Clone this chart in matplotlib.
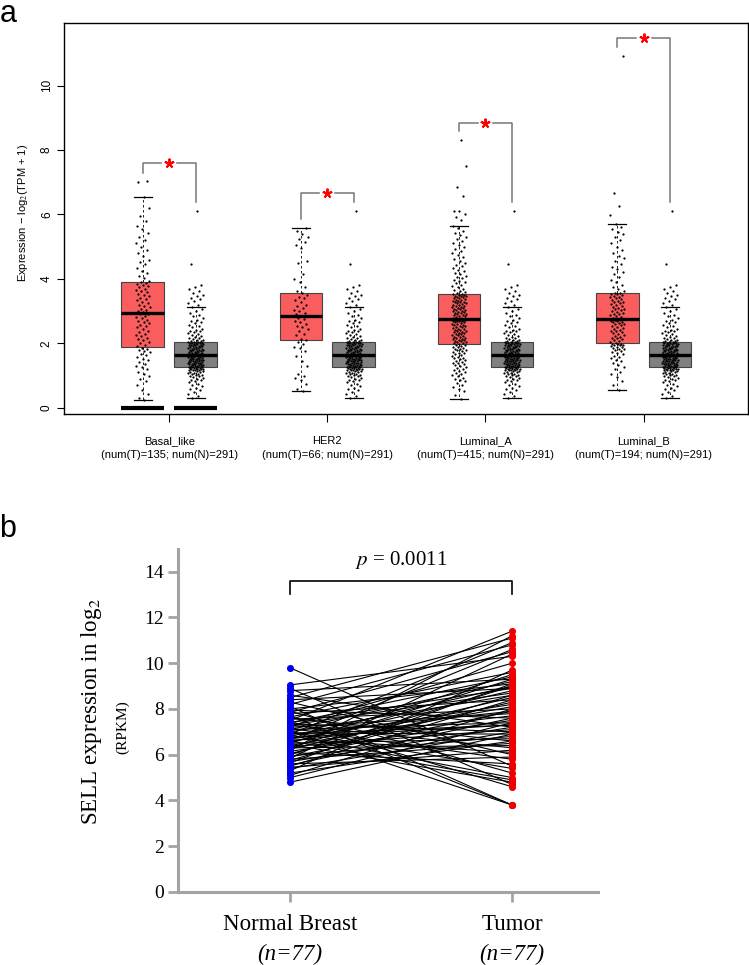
import matplotlib
matplotlib.use("Agg")
import matplotlib.pyplot as plt
import numpy as np

# ---------------- panel a : expression by PAM50 subtype ----------------
subtypes = ["Basal_like", "HER2", "Luminal_A", "Luminal_B"]
num_tumor = [135, 66, 415, 194]
num_normal = 291

# box statistics
tumor_whislo = [0.25, 0.53, 0.27, 0.55]
tumor_q1 = [1.89, 2.12, 1.97, 2.00]
tumor_med = [2.93, 2.85, 2.76, 2.77]
tumor_q3 = [3.90, 3.56, 3.53, 3.57]
tumor_whishi = [6.55, 5.59, 5.64, 5.71]
normal_box = [0.32, 1.28, 1.64, 2.04, 3.13]  # whislo, q1, med, q3, whishi

basal_tumor = [
    0.25, 0.31, 0.42, 0.55, 0.7, 0.82, 0.9, 0.98, 1.05, 1.12, 1.2, 1.26, 1.3,
    1.35, 1.42, 1.48, 1.52, 1.58, 1.63, 1.68, 1.72, 1.77, 1.8, 1.84, 1.87,
    1.92, 1.96, 2.0, 2.05, 2.1, 2.14, 2.18, 2.22, 2.27, 2.3, 2.35, 2.4, 2.45,
    2.5, 2.54, 2.58, 2.62, 2.66, 2.7, 2.74, 2.78, 2.82, 2.86, 2.9, 2.92,
    2.96, 3.0, 3.04, 3.08, 3.12, 3.16, 3.2, 3.25, 3.3, 3.34, 3.38, 3.42, 3.46,
    3.5, 3.54, 3.58, 3.62, 3.66, 3.7, 3.74, 3.78, 3.82, 3.85, 3.87, 3.89,
    3.95, 4.02, 4.1, 4.18, 4.25, 4.35, 4.45, 4.52, 4.6, 4.7, 4.82, 4.9, 5.0,
    5.1, 5.2, 5.3, 5.42, 5.55, 5.65, 5.8, 5.95, 6.2, 6.55, 7.02, 7.05,
]
her2_tumor = [
    0.53, 0.6, 0.75, 0.85, 0.92, 0.98, 1.05, 1.3, 1.45, 1.6, 1.75, 1.85, 1.9,
    1.98, 2.05, 2.1, 2.15, 2.25, 2.3, 2.38, 2.45, 2.5, 2.55, 2.6, 2.65, 2.7,
    2.75, 2.8, 2.84, 2.86, 2.9, 2.95, 3.0, 3.05, 3.1, 3.15, 3.2, 3.28, 3.35,
    3.4, 3.45, 3.5, 3.55, 3.62, 3.75, 3.9, 4.0, 4.15, 4.5, 4.55, 4.95, 5.05,
    5.15, 5.25, 5.3, 5.4, 5.5, 5.59,
]
luma_tumor = [
    0.27, 0.4, 0.52, 0.6, 0.66, 0.71, 0.77, 0.82, 0.86, 0.9,
    0.94, 0.98, 1.02, 1.05, 1.08, 1.11, 1.14, 1.17, 1.2, 1.23,
    1.26, 1.29, 1.32, 1.35, 1.38, 1.4, 1.43, 1.46, 1.48, 1.51,
    1.54, 1.56, 1.59, 1.61, 1.64, 1.66, 1.69, 1.71, 1.73, 1.76,
    1.78, 1.8, 1.82, 1.84, 1.86, 1.88, 1.9, 1.92, 1.94, 1.96,
    1.98, 2.0, 2.01, 2.03, 2.05, 2.06, 2.08, 2.1, 2.11, 2.13,
    2.15, 2.16, 2.18, 2.2, 2.21, 2.23, 2.25, 2.26, 2.28, 2.3,
    2.31, 2.33, 2.35, 2.36, 2.38, 2.4, 2.41, 2.43, 2.45, 2.46,
    2.48, 2.5, 2.51, 2.53, 2.55, 2.56, 2.58, 2.6, 2.61, 2.63,
    2.65, 2.66, 2.68, 2.69, 2.7, 2.71, 2.72, 2.73, 2.74, 2.75,
    2.77, 2.79, 2.8, 2.82, 2.84, 2.85, 2.87, 2.88, 2.9, 2.92,
    2.93, 2.95, 2.96, 2.98, 3.0, 3.01, 3.03, 3.04, 3.06, 3.08,
    3.09, 3.11, 3.12, 3.14, 3.16, 3.17, 3.19, 3.2, 3.22, 3.24,
    3.25, 3.27, 3.28, 3.3, 3.32, 3.33, 3.35, 3.36, 3.38, 3.4,
    3.41, 3.43, 3.44, 3.46, 3.47, 3.48, 3.5, 3.51, 3.52, 3.53,
    3.56, 3.6, 3.63, 3.67, 3.7, 3.74, 3.78, 3.82, 3.86, 3.9,
    3.94, 3.98, 4.02, 4.06, 4.1, 4.14, 4.19, 4.24, 4.29, 4.34,
    4.39, 4.44, 4.5, 4.56, 4.62, 4.68, 4.74, 4.8, 4.87, 4.94,
    5.0, 5.06, 5.12, 5.18, 5.24, 5.3, 5.36, 5.42, 5.5, 5.58,
    5.64, 5.82, 5.92, 6.02, 6.1, 6.12, 6.57, 6.85, 7.5, 8.3,
]
lumb_tumor = [
    0.55, 0.7, 0.82, 0.95, 1.04, 1.12, 1.2, 1.27, 1.33, 1.39,
    1.44, 1.49, 1.54, 1.58, 1.62, 1.66, 1.7, 1.73, 1.76, 1.79,
    1.82, 1.84, 1.86, 1.88, 1.9, 1.92, 1.94, 1.95, 1.96, 1.97, 1.98, 1.99,
    2.02, 2.05, 2.08, 2.1, 2.13, 2.16, 2.18, 2.21, 2.24, 2.27,
    2.3, 2.32, 2.35, 2.38, 2.4, 2.43, 2.46, 2.48, 2.51, 2.54,
    2.56, 2.59, 2.61, 2.63, 2.65, 2.67, 2.69, 2.71, 2.72, 2.74, 2.75, 2.76,
    2.79, 2.82, 2.84, 2.87, 2.9, 2.92, 2.95, 2.98, 3.0, 3.03,
    3.06, 3.08, 3.11, 3.14, 3.16, 3.19, 3.22, 3.24, 3.27, 3.3,
    3.32, 3.35, 3.38, 3.4, 3.43, 3.45, 3.48, 3.5, 3.52, 3.54, 3.55, 3.56,
    3.62, 3.68, 3.75, 3.82, 3.9, 3.98, 4.06, 4.14, 4.22, 4.3,
    4.38, 4.46, 4.55, 4.64, 4.72, 4.8, 4.9, 5.0, 5.1, 5.2,
    5.3, 5.38, 5.46, 5.54, 5.62, 5.71, 5.98, 6.26, 6.67, 10.93,
]
normal_pts = [
    0.32, 0.36, 0.44, 0.48, 0.55, 0.59, 0.61, 0.67, 0.72, 0.74,
    0.79, 0.83, 0.86, 0.87, 0.9, 0.93, 0.95, 0.98, 1.0, 1.01,
    1.03, 1.04, 1.06, 1.08, 1.09, 1.1, 1.12, 1.13, 1.14, 1.16,
    1.17, 1.18, 1.19, 1.2, 1.21, 1.21, 1.22, 1.23, 1.24, 1.25,
    1.25, 1.26, 1.27, 1.27, 1.28,
    1.29, 1.3, 1.3, 1.31, 1.32, 1.33, 1.34, 1.35, 1.35, 1.36,
    1.37, 1.38, 1.39, 1.4, 1.4, 1.41, 1.42, 1.43, 1.44, 1.45,
    1.46, 1.46, 1.47, 1.48, 1.49, 1.5, 1.51, 1.52, 1.52, 1.53,
    1.54, 1.55, 1.56, 1.57, 1.57, 1.58, 1.59, 1.6, 1.6, 1.61,
    1.62, 1.62, 1.63, 1.63, 1.64,
    1.65, 1.66, 1.66, 1.67, 1.68, 1.69, 1.7, 1.71, 1.72, 1.73,
    1.74, 1.75, 1.76, 1.77, 1.78, 1.79, 1.8, 1.81, 1.82, 1.83,
    1.84, 1.85, 1.86, 1.87, 1.88, 1.89, 1.9, 1.91, 1.92, 1.93,
    1.94, 1.95, 1.96, 1.96, 1.97, 1.98, 1.99, 2.0, 2.0, 2.01,
    2.02, 2.02, 2.03, 2.03, 2.04,
    2.06, 2.08, 2.1, 2.12, 2.14, 2.16, 2.18, 2.2, 2.23, 2.26,
    2.28, 2.31, 2.34, 2.37, 2.4, 2.43, 2.46, 2.5, 2.54, 2.58,
    2.62, 2.66, 2.7, 2.74, 2.79, 2.84, 2.89, 2.94, 3.0, 3.06,
    3.13, 3.2, 3.26, 3.33, 3.38, 3.42, 3.47, 3.5, 3.56, 3.62,
    3.7, 3.76, 3.8, 4.47, 6.1,
]
tumor_pts = [basal_tumor, her2_tumor, luma_tumor, lumb_tumor]

# significance brackets (tumor side leg end, bracket height)
bracket_top = [7.59, 6.66, 8.85, 11.48]
bracket_left_end = [7.30, 5.86, 8.58, 11.20]
bracket_right_end = 6.38

# ---------------- panel b : paired normal / tumor ----------------
pair_labels = ["Normal Breast", "Tumor"]
pair_n = [77, 77]
normal_expr = [
    9.8, 9.05, 8.9, 8.8, 8.6, 8.5, 8.4, 8.3, 8.2, 8.1, 8.0, 7.95, 7.9, 7.85,
    7.8, 7.7, 7.65, 7.6, 7.55, 7.5, 7.45, 7.4, 7.35, 7.3, 7.3, 7.25, 7.2,
    7.15, 7.1, 7.1, 7.05, 7.0, 6.95, 6.9, 6.9, 6.85, 6.8, 6.75, 6.7, 6.7,
    6.65, 6.6, 6.55, 6.5, 6.5, 6.45, 6.4, 6.35, 6.3, 6.3, 6.25, 6.2, 6.15,
    6.1, 6.05, 6.0, 5.95, 5.9, 5.85, 5.8, 5.75, 5.7, 5.65, 5.6, 5.55, 5.5,
    5.45, 5.4, 5.3, 5.2, 5.1, 5.0, 4.8, 7.0, 6.6, 7.4, 6.9,
]
tumor_expr = [
    5.5, 10.3, 4.7, 9.3, 7.2, 11.1, 8.9, 6.0, 10.8, 3.8, 9.1, 7.6, 5.2, 10.5,
    8.4, 3.8, 9.6, 6.6, 8.0, 11.4, 4.6, 9.4, 7.0, 8.7, 6.3, 10.0, 7.8, 5.8,
    9.2, 7.4, 3.8, 8.6, 6.9, 10.9, 7.9, 5.0, 9.0, 7.3, 8.2, 6.1, 10.6, 7.7,
    8.8, 6.7, 9.5, 4.8, 8.1, 7.1, 9.3, 6.4, 8.5, 11.2, 7.5, 5.6, 8.3, 9.0,
    6.8, 7.9, 10.4, 6.5, 8.6, 7.2, 9.1, 5.9, 7.6, 8.4, 6.2, 7.0, 9.7, 6.6,
    8.0, 7.4, 6.9, 5.4, 4.9, 8.9, 7.3,
]
p_value = 0.0011


def jitter(n, half):
    # deterministic spread (golden-ratio sequence) for the strip points
    k = np.arange(1, n + 1)
    return ((k * 0.6180339887) % 1.0 - 0.5) * 2 * half


fig = plt.figure(figsize=(7.49, 9.65), dpi=100)
W, H = 749, 965
sans = ["Liberation Sans", "DejaVu Sans"]
serif = ["Liberation Serif", "DejaVu Serif"]
plt.rcParams["mathtext.fontset"] = "stix"

ax1 = fig.add_axes([64 / W, 1 - 414 / H, (748 - 64) / W, (414 - 23) / H])
groups = np.arange(1, len(subtypes) + 1)
off, bw = 0.167, 0.27
t_pos = groups - off
n_pos = groups + off

stats = []
for i in range(len(subtypes)):
    stats.append(dict(whislo=tumor_whislo[i], q1=tumor_q1[i], med=tumor_med[i],
                      q3=tumor_q3[i], whishi=tumor_whishi[i], fliers=[]))
nstats = [dict(whislo=normal_box[0], q1=normal_box[1], med=normal_box[2],
               q3=normal_box[3], whishi=normal_box[4], fliers=[])
          for _ in subtypes]

common = dict(widths=bw, patch_artist=True, showfliers=False, capwidths=bw * 0.42,
              medianprops=dict(color="black", linewidth=2.4),
              whiskerprops=dict(color="black", linestyle=(0, (3, 3)), linewidth=0.6),
              capprops=dict(color="black", linewidth=0.9))
ax1.bxp(stats, positions=t_pos, boxprops=dict(facecolor="#FA5D5D", edgecolor="#444444", linewidth=0.8), **common)
ax1.bxp(nstats, positions=n_pos, boxprops=dict(facecolor="#808080", edgecolor="#444444", linewidth=0.8), **common)

# zero bar on the basal-like group
ax1.hlines([0, 0], [t_pos[0] - bw / 2, n_pos[0] - bw / 2], [t_pos[0] + bw / 2, n_pos[0] + bw / 2],
           color="black", linewidth=3, zorder=4)

for i, vals in enumerate(tumor_pts):
    v = np.array(vals)
    ax1.scatter(t_pos[i] + jitter(len(v), 0.045), v, s=2.6, color="black", linewidths=0, zorder=5)
    nv = np.array(normal_pts)
    ax1.scatter(n_pos[i] + jitter(len(nv), 0.05)[::-1], nv, s=2.6, color="black", linewidths=0, zorder=5)

gap = 0.05
for i in range(len(subtypes)):
    g = groups[i]
    ax1.plot([t_pos[i], t_pos[i], g - gap], [bracket_left_end[i], bracket_top[i], bracket_top[i]],
             color="#777777", linewidth=1.1, zorder=3)
    ax1.plot([g + gap, n_pos[i], n_pos[i]], [bracket_top[i], bracket_top[i], bracket_right_end],
             color="#777777", linewidth=1.1, zorder=3)
    ax1.plot(g, bracket_top[i], marker=(5, 2, 0), color="red", markersize=7,
             markeredgewidth=1.4, linestyle="none", zorder=6)

ax1.set_xlim(0.335, 4.66)
ax1.set_ylim(-0.19, 11.94)
ax1.set_xticks(groups)
ax1.set_xticklabels([f"{s}\n(num(T)={n}; num(N)={num_normal})" for s, n in zip(subtypes, num_tumor)],
                    family=sans, fontsize=8, linespacing=1.45)
ax1.set_yticks([0, 2, 4, 6, 8, 10])
ax1.set_yticklabels(["0", "2", "4", "6", "8", "10"], rotation=90, va="center",
                    family=sans, fontsize=8.5)
ax1.tick_params(axis="x", length=6, pad=10, width=0.8)
ax1.tick_params(axis="y", length=5, pad=3, width=0.8)
for sp in ax1.spines.values():
    sp.set_linewidth(1.0)
fig.text(23 / W, 1 - 213 / H, "Expression \u2212 log$_2$(TPM + 1)", rotation=90,
         ha="center", va="center", family=sans, fontsize=8)

# ---------------- panel b ----------------
ax2 = fig.add_axes([178 / W, 1 - 892 / H, (598 - 178) / W, (892 - 548.8) / H])
grey = "#a3a3a3"
ne = np.array(normal_expr)
te = np.array(tumor_expr)
xs = np.vstack([np.ones_like(ne), np.full_like(te, 2.0)])
ax2.plot(xs, np.vstack([ne, te]), color="black", linewidth=0.8, zorder=2)
ax2.scatter(np.ones_like(ne), ne, s=26, color="#0000EE", linewidths=0, zorder=3)
ax2.scatter(np.full_like(te, 2.0), te, s=26, color="#EE0000", linewidths=0, zorder=3)

ax2.plot([1, 1, 2, 2], [13.02, 13.6, 13.6, 13.02], color="black", linewidth=1.2)
ax2.text(1.5, 14.5, f"$p$ = {p_value}", ha="center", va="center", family=serif, fontsize=15)

ax2.set_xlim(0.495, 2.387)
ax2.set_ylim(0, 15)
ax2.set_yticks(range(0, 15, 2))
ax2.set_yticklabels([str(v) for v in range(0, 15, 2)], family=serif, fontsize=14)
ax2.set_xticks([1, 2])
ax2.set_xticklabels(pair_labels, family=serif, fontsize=16.5)
for j, n in enumerate(pair_n):
    ax2.text(j + 1, -2.75, f"(n={n})", ha="center", va="center", family=serif,
             style="italic", fontsize=16.5)
for side in ["top", "right"]:
    ax2.spines[side].set_visible(False)
for side in ["left", "bottom"]:
    ax2.spines[side].set_color(grey)
    ax2.spines[side].set_linewidth(2.2)
ax2.tick_params(axis="both", color=grey, width=2, length=7)
ax2.tick_params(axis="x", pad=9)
ax2.tick_params(axis="y", pad=3)

fig.text(92 / W, 1 - 712 / H, "SELL expression in log$_2$", rotation=90, ha="center",
         va="center", family=serif, fontsize=16.5)
fig.text(123 / W, 1 - 727 / H, "(RPKM)", rotation=90, ha="center", va="center",
         family=serif, fontsize=11)

fig.text(8 / W, 1 - 14 / H, "a", ha="center", va="center", family=sans, fontsize=22)
fig.text(8 / W, 1 - 529 / H, "b", ha="center", va="center", family=sans, fontsize=22)

fig.savefig("out.png", dpi=100)
